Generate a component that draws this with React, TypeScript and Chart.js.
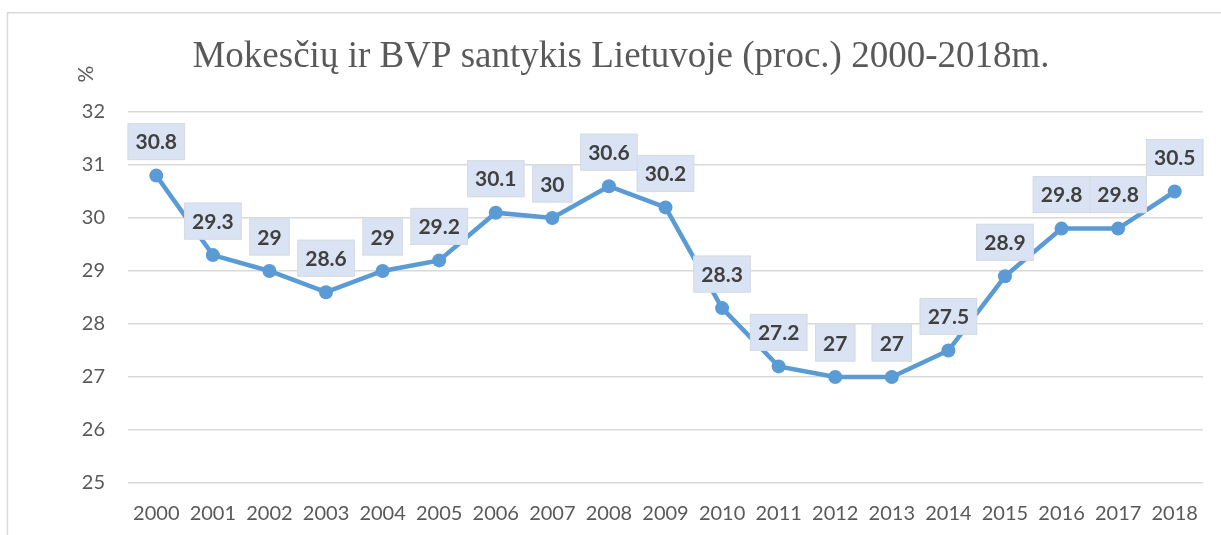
import React, { useEffect, useRef } from "react";
import { Chart, registerables } from "chart.js";

Chart.register(...registerables);

const TITLE = "Mokesčių ir BVP santykis Lietuvoje (proc.) 2000-2018m.";
const Y_UNIT = "%";
const YEARS = [
  "2000", "2001", "2002", "2003", "2004", "2005", "2006", "2007", "2008", "2009",
  "2010", "2011", "2012", "2013", "2014", "2015", "2016", "2017", "2018",
];
const RATIO = [30.8, 29.3, 29, 28.6, 29, 29.2, 30.1, 30, 30.6, 30.2, 28.3, 27.2, 27, 27, 27.5, 28.9, 29.8, 29.8, 30.5];
const Y_MIN = 25;
const Y_MAX = 32;

const W = 1221;
const H = 535;

const FONT = "Lato, 'Open Sans', 'DejaVu Sans', sans-serif";

const decorPlugin = {
  id: "decor",
  beforeDraw(chart: any) {
    const ctx = chart.ctx;
    ctx.save();
    ctx.fillStyle = "#ffffff";
    ctx.fillRect(0, 0, W, H);
    ctx.strokeStyle = "#d9d9d9";
    ctx.lineWidth = 1.5;
    ctx.beginPath();
    ctx.moveTo(7.5, H);
    ctx.lineTo(7.5, 12.75);
    ctx.lineTo(W, 12.75);
    ctx.stroke();
    // title
    ctx.fillStyle = "#595959";
    ctx.font = "37px 'Liberation Serif', 'Times New Roman', serif";
    ctx.textAlign = "center";
    ctx.textBaseline = "middle";
    ctx.fillText(TITLE, 621, 57);
    // unit
    ctx.translate(86, 74);
    ctx.rotate(-Math.PI / 2);
    ctx.font = "21px " + FONT;
    ctx.fillText(Y_UNIT, 0, 0);
    ctx.restore();
  },
  afterDatasetsDraw(chart: any) {
    const ctx = chart.ctx;
    const meta = chart.getDatasetMeta(0);
    const data = chart.data.datasets[0].data;
    ctx.save();
    ctx.font = "bold 21px " + FONT;
    ctx.textAlign = "center";
    ctx.textBaseline = "middle";
    meta.data.forEach((pt: any, i: number) => {
      const text = String(data[i]);
      const tw = ctx.measureText(text).width;
      const bw = tw + 16;
      const bh = 37;
      const cx = pt.x;
      const cy = pt.y - 34;
      ctx.fillStyle = "#dae3f3";
      ctx.fillRect(cx - bw / 2, cy - bh / 2, bw, bh);
      ctx.strokeStyle = "#d6dbe3";
      ctx.lineWidth = 1;
      ctx.strokeRect(cx - bw / 2 + 0.5, cy - bh / 2 + 0.5, bw - 1, bh - 1);
      ctx.fillStyle = "#404040";
      ctx.fillText(text, cx, cy + 1);
    });
    ctx.restore();
  },
};

export default function App() {
  const ref = useRef<HTMLCanvasElement>(null);
  useEffect(() => {
    document.body.style.margin = "0";
    const chart = new Chart(ref.current as HTMLCanvasElement, {
      type: "line",
      data: {
        labels: YEARS,
        datasets: [
          {
            data: RATIO,
            borderColor: "#5b9bd5",
            backgroundColor: "#5b9bd5",
            borderWidth: 4.5,
            pointRadius: 7,
            pointBackgroundColor: "#5b9bd5",
            pointBorderColor: "#5b9bd5",
            pointBorderWidth: 0,
            tension: 0,
          },
        ],
      },
      options: {
        responsive: false,
        animation: false,
        layout: { padding: { top: 112, right: 18, left: 0, bottom: 0 } },
        plugins: {
          legend: { display: false },
          title: { display: false },
          tooltip: { enabled: false },
        },
        scales: {
          x: {
            offset: true,
            grid: { display: false, drawTicks: false },
            border: { display: false },
            ticks: {
              color: "#595959",
              font: { family: FONT, size: 20 },
              padding: 19,
              maxRotation: 0,
              autoSkip: false,
            },
            afterFit(scale: any) {
              scale.height = 52;
            },
          },
          y: {
            min: Y_MIN,
            max: Y_MAX,
            grid: { color: "#d9d9d9", lineWidth: 1.5, drawTicks: false },
            border: { display: false },
            ticks: {
              stepSize: 1,
              color: "#595959",
              font: { family: FONT, size: 20 },
              padding: 23,
            },
            afterFit(scale: any) {
              scale.width = 128;
            },
          },
        },
      },
      plugins: [decorPlugin],
    });
    return () => chart.destroy();
  }, []);
  return (
    <div style={{ width: W, height: H }}>
      <canvas ref={ref} width={W} height={H} style={{ display: "block" }} />
    </div>
  );
}
